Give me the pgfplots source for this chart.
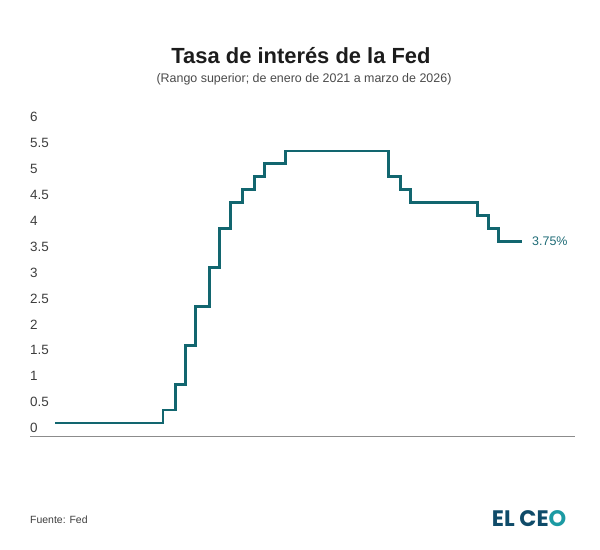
\documentclass[border=0pt]{standalone}
\usepackage{pgfplots}
\pgfplotsset{compat=1.18}
\usepackage{fontspec}
\setmainfont{Liberation Sans}
\newfontfamily\logofont{Poppins}
\definecolor{fedteal}{HTML}{12666F}
\definecolor{labteal}{HTML}{1E6B76}
\definecolor{titlec}{HTML}{1C1C1C}
\definecolor{subc}{HTML}{4A4A4A}
\definecolor{tickc}{HTML}{3D3D3D}
\definecolor{basec}{HTML}{8C8C8C}
\definecolor{logodark}{HTML}{0F4B69}
\definecolor{logolight}{HTML}{1C9AA3}
\begin{document}
\begin{tikzpicture}
\begin{axis}[
  scale only axis, width=545bp, height=311bp,
  xmin=-101.8, xmax=2116.8, ymin=0, ymax=6,
  axis x line=bottom, axis y line=left,
  x axis line style={-, draw=basec, line width=0.9bp},
  y axis line style={draw=none},
  xtick=\empty,
  ytick={0,0.5,1,1.5,2,2.5,3,3.5,4,4.5,5,5.5,6},
  yticklabels={0,0.5,1,1.5,2,2.5,3,3.5,4,4.5,5,5.5,6},
  major tick length=0pt,
  yticklabel style={anchor=base west, inner sep=0pt, yshift=3.3bp, text=tickc, font=\fontsize{13.5}{16}\selectfont},
  clip=false,
]
\addplot[const plot, color=fedteal, line width=2.8bp, line join=miter] coordinates {
(0,0.25) (440,0.5) (489,1.0) (531,1.75) (573,2.5) (629,3.25) (671,4.0) (713,4.5)
(762,4.75) (811,5.0) (853,5.25) (937,5.5) (1357,5.0) (1407,4.75) (1448,4.5)
(1721,4.25) (1763,4.0) (1805,3.75) (1903,3.75)
};
\node[anchor=west, inner sep=0pt, xshift=9.5bp, text=labteal] at (axis cs:1903,3.75) {\fontsize{12.5}{15}\selectfont 3.75\%};
\coordinate (O) at (axis cs:-101.8,0);
\end{axis}
\begin{scope}[shift={(O)}, x=1bp, y=1bp, shift={(-30,-114)}]
\path[use as bounding box] (0,0) rectangle (600,550);
\node[anchor=base, inner sep=0pt, text=titlec] at (301,486) {\fontsize{22}{26}\selectfont\bfseries Tasa de interés de la Fed};
\node[anchor=base, inner sep=0pt, text=subc] at (304,467.8) {\fontsize{12.5}{15}\selectfont (Rango superior; de enero de 2021 a marzo de 2026)};
\node[anchor=base west, inner sep=0pt, text=tickc] at (30,26.7) {\fontsize{10.5}{12}\selectfont Fuente: Fed};
\node[anchor=base east, inner sep=0pt] at (566.5,23.3) {\fontsize{22.5}{26}\selectfont\logofont\bfseries\textcolor{logodark}{EL CE}\textcolor{logolight}{O}};
\end{scope}
\end{tikzpicture}
\end{document}
